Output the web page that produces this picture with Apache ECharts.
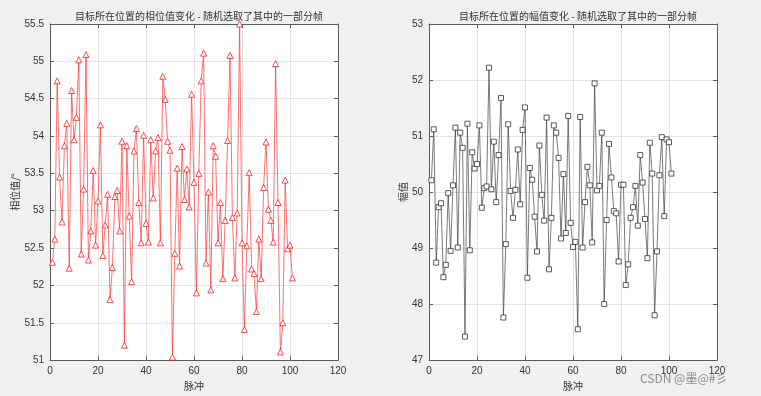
<!DOCTYPE html>
<html><head><meta charset="utf-8">
<script src="https://cdn.jsdelivr.net/npm/echarts@6/dist/echarts.min.js"></script>
<style>html,body{margin:0;padding:0;background:#f0f0f0;}#c{width:761px;height:396px;}</style>
</head><body><div id="c"></div>
<script>
const phaseValues = [52.31,52.62,54.74,53.45,52.85,53.87,54.17,52.23,54.61,53.95,
54.25,55.02,52.42,53.29,55.09,52.34,52.73,53.54,52.54,53.13,
54.15,52.40,52.81,53.22,51.81,52.24,53.19,53.27,52.73,53.93,
51.20,53.87,52.93,52.05,53.80,54.10,53.11,52.57,54.01,52.83,
52.58,53.95,53.17,53.80,53.98,52.57,54.80,54.49,53.93,53.81,
51.04,52.43,53.57,52.26,53.86,53.15,53.56,53.05,54.56,53.38,
51.90,53.50,54.74,55.11,52.30,53.25,51.94,53.87,53.73,52.57,
53.11,52.09,52.87,53.94,55.08,52.91,52.10,52.97,55.50,52.57,
51.41,52.53,53.51,52.22,52.16,51.65,52.62,52.09,53.31,53.92,
53.02,52.87,52.58,54.97,53.11,51.11,51.50,53.41,52.49,52.54,52.10];
const amplitudeValues = [50.21,51.12,48.74,49.73,49.80,48.48,48.70,49.98,48.95,50.12,
51.15,49.01,51.06,50.79,47.42,51.22,48.96,50.71,50.42,50.50,
51.19,49.72,50.07,50.10,52.22,50.05,50.90,49.82,50.66,51.68,
47.76,49.07,51.21,50.02,49.54,50.04,50.76,49.78,51.11,51.51,
48.47,50.43,50.22,49.56,48.94,50.83,49.95,49.49,51.33,48.62,
49.54,51.19,51.06,50.61,49.17,50.32,49.27,51.36,49.45,49.02,
49.11,47.55,51.34,49.01,49.82,50.45,50.12,49.10,51.94,50.03,
50.11,51.06,48.00,49.50,50.86,50.26,49.66,49.62,48.76,50.13,
50.13,48.34,48.71,49.54,49.73,50.11,49.40,50.66,50.17,49.52,
48.82,50.88,50.33,47.80,48.94,50.30,50.98,49.57,50.94,50.89,50.33];
const xTicks = [0,20,40,60,80,100,120];
const titles = ['目标所在位置的相位值变化 - 随机选取了其中的一部分帧','目标所在位置的幅值变化 - 随机选取了其中的一部分帧'];
const xName = '脉冲';
const yNames = ['相位值/°','幅值'];

const chart = echarts.init(document.getElementById('c'), null, {renderer:'canvas'});
const axisCol = '#5a5a5a';
const txtCol = '#333333';
const font = 'Liberation Sans, Arial, sans-serif';
const cjk = 'Noto Sans CJK SC, sans-serif';

function xAx(gi, pos, labels){
  return {type:'value', gridIndex:gi, position:pos, min:xTicks[0], max:xTicks[xTicks.length-1], interval:xTicks[1]-xTicks[0],
    axisLine:{show:true, onZero:false, lineStyle:{color:axisCol,width:1}},
    axisTick:{show:true, inside:true, length:4, lineStyle:{color:axisCol}},
    axisLabel:{show:labels, color:txtCol, fontSize:10, fontFamily:font, margin:6},
    splitLine:{show:labels, lineStyle:{color:'#e3e3e3',width:1}},
    name: labels? xName : '', nameLocation:'middle', nameGap:18,
    nameTextStyle:{color:txtCol, fontSize:10, fontFamily:cjk}};
}
function yAx(gi, pos, labels, mn, mx, iv, nm, gap){
  return {type:'value', gridIndex:gi, position:pos, min:mn, max:mx, interval:iv,
    axisLine:{show:true, onZero:false, lineStyle:{color:axisCol,width:1}},
    axisTick:{show:true, inside:true, length:4, lineStyle:{color:axisCol}},
    axisLabel:{show:labels, color:txtCol, fontSize:10, fontFamily:font, margin:6},
    splitLine:{show:labels, lineStyle:{color:'#e3e3e3',width:1}},
    name: labels? nm : '', nameLocation:'middle', nameGap: gap, nameRotate:90,
    nameTextStyle:{color:txtCol, fontSize:10, fontFamily:cjk}};
}

chart.setOption({
  backgroundColor:'#f0f0f0',
  animation:false,
  title:[
    {text:titles[0], left:194, top:6, textAlign:'center', textStyle:{fontSize:10, fontWeight:'normal', color:txtCol, fontFamily:cjk}},
    {text:titles[1], left:573, top:6, textAlign:'center', textStyle:{fontSize:10, fontWeight:'normal', color:txtCol, fontFamily:cjk}}
  ],
  grid:[
    {left:50, top:24, width:288, height:338, show:true, backgroundColor:'#ffffff', borderWidth:0},
    {left:429, top:24, width:288, height:338, show:true, backgroundColor:'#ffffff', borderWidth:0}
  ],
  xAxis:[xAx(0,'bottom',true), xAx(0,'top',false), xAx(1,'bottom',true), xAx(1,'top',false)],
  yAxis:[yAx(0,'left',true,51,55.5,0.5,yNames[0],27), yAx(0,'right',false,51,55.5,0.5,'',0),
         yAx(1,'left',true,47,53,1,yNames[1],21), yAx(1,'right',false,47,53,1,'',0)],
  series:[
    {type:'line', xAxisIndex:0, yAxisIndex:0, data:phaseValues.map((v,i)=>[i+1,v]),
      symbol:'triangle', symbolSize:6, showAllSymbol:true,
      lineStyle:{color:'#ff3333', width:0.7},
      itemStyle:{color:'#ffffff', borderColor:'#ff2020', borderWidth:0.8}},
    {type:'line', xAxisIndex:2, yAxisIndex:2, data:amplitudeValues.map((v,i)=>[i+1,v]),
      symbol:'rect', symbolSize:5, showAllSymbol:true,
      lineStyle:{color:'#404040', width:0.7},
      itemStyle:{color:'#ffffff', borderColor:'#333333', borderWidth:0.8}}
  ],
  graphic:[{type:'text', left:640, top:372, style:{text:'CSDN @墨@#彡', fill:'#8c8c8c', font:'12px Noto Sans CJK SC, sans-serif'}}]
});
</script></body></html>
